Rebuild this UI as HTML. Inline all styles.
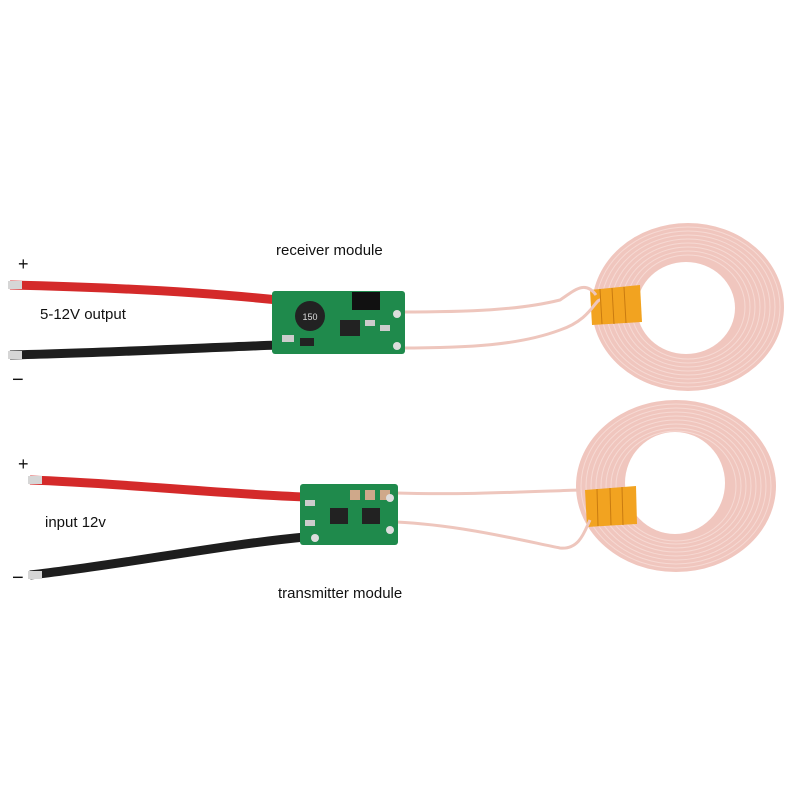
<!DOCTYPE html>
<html><head><meta charset="utf-8"><style>
html,body{margin:0;padding:0;background:#fff;}
svg{display:block}
text{font-family:"Liberation Sans",sans-serif;fill:#111;}
</style></head><body>
<svg width="800" height="800" viewBox="0 0 800 800" xmlns="http://www.w3.org/2000/svg">
<!-- top coil -->
<g>
<ellipse cx="688" cy="307" rx="96" ry="84" fill="#f0c6be"/>
<g fill="none" stroke="#f6d9d3" stroke-width="1">
<ellipse cx="688" cy="307" rx="92" ry="80"/><ellipse cx="688" cy="307" rx="87" ry="76"/>
<ellipse cx="688" cy="307" rx="82" ry="72"/><ellipse cx="688" cy="307" rx="77" ry="68"/>
<ellipse cx="688" cy="307" rx="72" ry="64"/><ellipse cx="688" cy="307" rx="67" ry="60"/>
<ellipse cx="688" cy="307" rx="62" ry="56"/><ellipse cx="688" cy="307" rx="57" ry="52"/>
</g>
<ellipse cx="686" cy="308" rx="49" ry="46" fill="#fff"/>
<polygon points="590,290 640,285 642,322 592,325" fill="#f2a320"/>
<g stroke="#c97b10" stroke-width="1"><line x1="600" y1="289" x2="602" y2="324"/><line x1="612" y1="288" x2="614" y2="324"/><line x1="624" y1="287" x2="626" y2="323"/></g>
</g>
<!-- bottom coil -->
<g>
<ellipse cx="676" cy="486" rx="100" ry="86" fill="#f0c6be"/>
<g fill="none" stroke="#f6d9d3" stroke-width="1">
<ellipse cx="676" cy="486" rx="95" ry="82"/><ellipse cx="676" cy="486" rx="90" ry="78"/>
<ellipse cx="676" cy="486" rx="85" ry="74"/><ellipse cx="676" cy="486" rx="80" ry="70"/>
<ellipse cx="676" cy="486" rx="75" ry="66"/><ellipse cx="676" cy="486" rx="70" ry="62"/>
<ellipse cx="676" cy="486" rx="65" ry="58"/><ellipse cx="676" cy="486" rx="60" ry="55"/>
</g>
<ellipse cx="675" cy="483" rx="50" ry="51" fill="#fff"/>
<polygon points="585,490 636,486 637,524 587,527" fill="#f2a320"/>
<g stroke="#c97b10" stroke-width="1"><line x1="597" y1="489" x2="598" y2="526"/><line x1="610" y1="488" x2="611" y2="525"/><line x1="622" y1="487" x2="623" y2="525"/></g>
</g>
<!-- coil leads -->
<g fill="none" stroke="#eec6bd" stroke-width="3">
<path d="M400,312 C470,312 520,310 560,300 C575,290 585,280 596,295"/>
<path d="M400,348 C470,348 520,345 560,330 C590,320 595,300 600,300"/>
<path d="M396,493 C460,495 520,492 580,490"/>
<path d="M396,522 C460,525 520,540 560,548 C580,550 585,530 590,520"/>
</g>
<!-- top wires -->
<path d="M10,285 C100,287 200,292 278,300" stroke="#d42a2a" stroke-width="9" fill="none"/>
<path d="M10,355 C100,353 200,348 278,345" stroke="#1e1e1e" stroke-width="9" fill="none"/>
<rect x="8" y="281" width="14" height="8" fill="#d6d6d6"/>
<rect x="8" y="351" width="14" height="8" fill="#d6d6d6"/>
<!-- top board -->
<rect x="272" y="291" width="133" height="63" rx="3" fill="#1f8a4c"/>
<circle cx="310" cy="316" r="15" fill="#222"/><text x="310" y="320" font-size="9" text-anchor="middle" style="fill:#ddd">150</text>
<rect x="352" y="292" width="28" height="18" fill="#111"/>
<rect x="340" y="320" width="20" height="16" fill="#222"/>
<rect x="365" y="320" width="10" height="6" fill="#ccc"/><rect x="380" y="325" width="10" height="6" fill="#ccc"/>
<rect x="282" y="335" width="12" height="7" fill="#ccc"/><rect x="300" y="338" width="14" height="8" fill="#222"/>
<circle cx="397" cy="314" r="4" fill="#ddd"/><circle cx="397" cy="346" r="4" fill="#ddd"/>
<!-- bottom wires -->
<path d="M30,480 C120,483 220,494 305,497" stroke="#d42a2a" stroke-width="9" fill="none"/>
<path d="M30,575 C120,565 220,545 305,537" stroke="#1e1e1e" stroke-width="9" fill="none"/>
<rect x="28" y="476" width="14" height="8" fill="#d6d6d6"/>
<rect x="28" y="571" width="14" height="8" fill="#d6d6d6"/>
<!-- bottom board -->
<rect x="300" y="484" width="98" height="61" rx="3" fill="#1f8a4c"/>
<rect x="330" y="508" width="18" height="16" fill="#222"/><rect x="362" y="508" width="18" height="16" fill="#222"/>
<rect x="350" y="490" width="10" height="10" fill="#cfa88a"/><rect x="365" y="490" width="10" height="10" fill="#cfa88a"/><rect x="380" y="490" width="10" height="10" fill="#cfa88a"/>
<rect x="305" y="500" width="10" height="6" fill="#ccc"/><rect x="305" y="520" width="10" height="6" fill="#ccc"/>
<circle cx="390" cy="498" r="4" fill="#ddd"/><circle cx="390" cy="530" r="4" fill="#ddd"/><circle cx="315" cy="538" r="4" fill="#ddd"/>
<!-- labels -->
<text x="18" y="270" font-size="18">+</text>
<text x="40" y="319" font-size="15">5-12V output</text>
<text x="12" y="386" font-size="20">−</text>
<text x="276" y="255" font-size="15">receiver module</text>
<text x="18" y="470" font-size="18">+</text>
<text x="45" y="527" font-size="15">input 12v</text>
<text x="12" y="584" font-size="20">−</text>
<text x="278" y="598" font-size="15">transmitter module</text>
</svg>
</body></html>
